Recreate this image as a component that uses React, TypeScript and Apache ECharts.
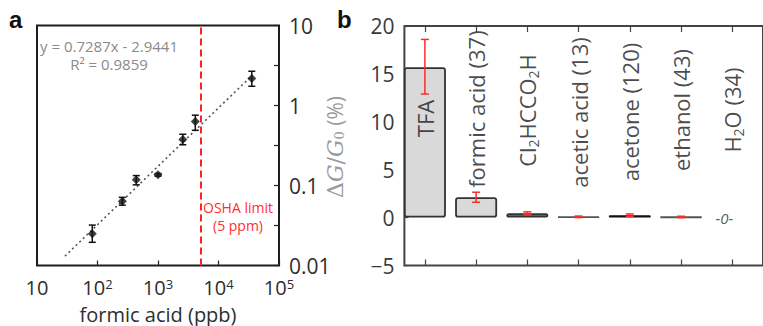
import React, { useEffect, useRef } from 'react';
import * as echarts from 'echarts';

// ---------- panel a : formic acid calibration ----------
const CONC_PPB = [82, 257, 437, 1000, 2570, 4140, 35500];
const RESPONSE = [0.025, 0.0637, 0.118, 0.136, 0.376, 0.63, 2.18];
const RESPONSE_LOW = [0.0195, 0.0568, 0.102, 0.131, 0.323, 0.49, 1.74];
const RESPONSE_HIGH = [0.032, 0.0711, 0.133, 0.141, 0.437, 0.757, 2.68];
const FIT_CONC = [29, 36000];
const FIT_RESPONSE = [0.0131, 2.38];
const OSHA_LIMIT_PPB = 5000;
const FIT_TEXT = ['y = 0.7287x - 2.9441', 'R\u00b2 = 0.9859'];
const OSHA_TEXT = ['OSHA limit', '(5 ppm)'];

// ---------- panel b : selectivity ----------
const GAS_LABELS = [
  '{n|TFA}',
  '{n|formic acid (37)}',
  '{n|Cl}{sub|2}{n|HCCO}{sub|2}{n|H}',
  '{n|acetic acid (13)}',
  '{n|acetone (120)}',
  '{n|ethanol (43)}',
  '{n|H}{sub|2}{n|O (34)}',
];
const DELTA_G = [15.7, 2.13, 0.45, 0.08, 0.25, 0.07, null];
const DELTA_G_LOW = [12.9, 1.6, 0.3, 0.0, 0.12, 0.0, null];
const DELTA_G_HIGH = [18.6, 2.65, 0.6, 0.16, 0.38, 0.14, null];
const LABEL_AT = [10.34, 11.33, 11.18, 10.97, 11.02, 11.23, 11.23];
const ZERO_TEXT = '-0-';

const BAR_FILL = ['#d9d9d9', '#d9d9d9', '#707070', '#6a6a6a', '#111111', '#6a6a6a', '#d9d9d9'];
const BAR_EDGE = ['#333333', '#333333', '#333333', '#555555', '#111111', '#555555', '#333333'];

const FONT = "'Open Sans', sans-serif";

function errorBar(color: string, cap: number, width: number) {
  return (params: any, api: any) => {
    const x = api.value(0);
    const lo = api.coord([x, api.value(1)]);
    const hi = api.coord([x, api.value(2)]);
    const st = { stroke: color, lineWidth: width };
    return {
      type: 'group',
      children: [
        { type: 'line', shape: { x1: lo[0], y1: lo[1], x2: hi[0], y2: hi[1] }, style: st },
        { type: 'line', shape: { x1: lo[0] - cap, y1: lo[1], x2: lo[0] + cap, y2: lo[1] }, style: st },
        { type: 'line', shape: { x1: hi[0] - cap, y1: hi[1], x2: hi[0] + cap, y2: hi[1] }, style: st },
      ],
    };
  };
}

export default function App() {
  const ref = useRef<HTMLDivElement>(null);
  useEffect(() => {
    document.body.style.margin = '0';
    const chart = echarts.init(ref.current!, null, { renderer: 'svg' });
    const tickColor = '#2e2e2e';
    const cats = GAS_LABELS.map((_, i) => i + 1);
    const option: any = {
      animation: false,
      backgroundColor: '#ffffff',
      grid: [
        { left: 37, top: 25.5, width: 242, height: 240, show: true, borderColor: '#1e1e1e', borderWidth: 2 },
        { left: 404.4, top: 26, width: 369.6, height: 239.5, show: true, borderColor: '#444444', borderWidth: 2 },
      ],
      xAxis: [
        {
          gridIndex: 0, type: 'log', logBase: 10, min: 10, max: 100000, position: 'bottom',
          axisLine: { show: false, onZero: false },
          axisTick: { show: true, inside: true, length: 5, lineStyle: { color: '#222', width: 1.2 } },
          splitLine: { show: false },
          axisLabel: {
            margin: 12,
            formatter: (v: number) => {
              const e = Math.round(Math.log10(v));
              return e === 1 ? '{n|10}' : `{n|10}{s|${e}}`;
            },
            rich: {
              n: { fontSize: 20, fontFamily: FONT, color: tickColor, lineHeight: 19 },
              s: { fontSize: 13, fontFamily: FONT, color: tickColor, verticalAlign: 'top', lineHeight: 12 },
            },
          },
        },
        {
          gridIndex: 1, type: 'value', min: 0.6, max: 7.6, position: 'bottom',
          axisLine: { show: false, onZero: false },
          axisTick: { show: true, inside: true, length: 6, customValues: cats, lineStyle: { color: '#444', width: 1.2 } },
          axisLabel: { show: false },
          splitLine: { show: false },
        },
        {
          gridIndex: 1, type: 'value', min: 0.6, max: 7.6, position: 'top',
          axisLine: { show: false, onZero: false },
          axisTick: { show: true, inside: true, length: 6, customValues: cats, lineStyle: { color: '#444', width: 1.2 } },
          axisLabel: { show: false },
          splitLine: { show: false },
        },
      ],
      yAxis: [
        {
          gridIndex: 0, type: 'log', logBase: 10, min: 0.01, max: 10, position: 'right',
          axisLine: { show: false, onZero: false }, axisTick: { show: false }, splitLine: { show: false },
          axisLabel: {
            margin: 10, fontSize: 21, lineHeight: 20, fontFamily: FONT, color: tickColor,
            formatter: (v: number) => String(Number(v.toPrecision(3))),
          },
        },
        {
          gridIndex: 0, type: 'value', min: -2, max: 1, interval: 0.5, position: 'right',
          axisLine: { show: false, onZero: false },
          axisTick: { show: true, inside: true, length: 5, lineStyle: { color: '#222', width: 1.2 } },
          axisLabel: { show: false }, splitLine: { show: false },
        },
        {
          gridIndex: 1, type: 'value', min: -5, max: 20, interval: 5, position: 'left',
          axisLine: { show: false, onZero: false },
          axisTick: { show: true, inside: true, length: 4, lineStyle: { color: '#444', width: 1.2 } },
          splitLine: { show: false },
          axisLabel: {
            margin: 10, fontSize: 21, fontFamily: FONT, color: '#3a3a3a',
            formatter: (v: number) => (v < 0 ? '\u2212' + Math.abs(v) : String(v)),
          },
        },
      ],
      series: [
        {
          type: 'line', xAxisIndex: 0, yAxisIndex: 0, symbol: 'none', silent: true,
          data: FIT_CONC.map((c, i) => [c, FIT_RESPONSE[i]]),
          lineStyle: { color: '#555', width: 1.6, type: [2, 3] },
          markLine: {
            silent: true, symbol: ['none', 'none'], label: { show: false },
            lineStyle: { color: '#ff2020', width: 2, type: [7, 4] },
            data: [{ xAxis: OSHA_LIMIT_PPB }],
          },
          z: 2,
        },
        {
          type: 'custom', xAxisIndex: 0, yAxisIndex: 0, silent: true,
          renderItem: errorBar('#111', 3.5, 1.5),
          encode: { x: 0, y: [1, 2] },
          data: CONC_PPB.map((c, i) => [c, RESPONSE_LOW[i], RESPONSE_HIGH[i]]),
          z: 3,
        },
        {
          type: 'scatter', xAxisIndex: 0, yAxisIndex: 0, symbol: 'diamond', symbolSize: 9, silent: true,
          itemStyle: { color: '#111' },
          data: CONC_PPB.map((c, i) => [c, RESPONSE[i]]),
          z: 4,
        },
        {
          type: 'bar', xAxisIndex: 1, yAxisIndex: 2, barWidth: 42, silent: true,
          data: DELTA_G.map((v, i) =>
            v == null
              ? null
              : {
                  value: [i + 1, v],
                  itemStyle: { color: BAR_FILL[i], borderColor: BAR_EDGE[i], borderWidth: 1.8, borderRadius: 2 },
                }
          ).filter((d) => d !== null),
          z: 2,
        },
        {
          type: 'custom', xAxisIndex: 1, yAxisIndex: 2, silent: true,
          renderItem: errorBar('#ff2a2a', 4, 1.5),
          encode: { x: 0, y: [1, 2] },
          data: DELTA_G_LOW.map((lo, i) => (lo == null ? null : [i + 1, lo, DELTA_G_HIGH[i]])).filter((d) => d !== null),
          z: 3,
        },
        {
          type: 'scatter', xAxisIndex: 1, yAxisIndex: 2, symbolSize: 0, silent: true,
          data: GAS_LABELS.map((t, i) => ({ value: [i + 1, LABEL_AT[i]], label: { formatter: t } })),
          label: {
            show: true, position: 'inside', rotate: 90,
            rich: {
              n: { fontSize: 22, fontFamily: FONT, color: '#1a1a1a', lineHeight: 26 },
              sub: { fontSize: 14, fontFamily: FONT, color: '#1a1a1a', verticalAlign: 'bottom', lineHeight: 14 },
            },
          },
          z: 5,
        },
        {
          type: 'scatter', xAxisIndex: 1, yAxisIndex: 2, symbolSize: 0, silent: true,
          data: [{ value: [7, 0] }],
          label: {
            show: true, position: 'inside', formatter: ZERO_TEXT, offset: [-8, 0],
            fontSize: 15, fontStyle: 'italic', fontFamily: FONT, color: '#333',
          },
          z: 5,
        },
      ],
      graphic: [
        {
          type: 'text', left: 9, top: 7,
          style: { text: 'a', fontSize: 24, fontWeight: 'bold', fontFamily: "'Liberation Sans', Arial, sans-serif", fill: '#111' },
        },
        {
          type: 'text', left: 337, top: 7,
          style: { text: 'b', fontSize: 24, fontWeight: 'bold', fontFamily: "'Liberation Sans', Arial, sans-serif", fill: '#111' },
        },
        {
          type: 'text', x: 109, y: 55,
          style: {
            text: FIT_TEXT.join('\n'), fontSize: 15, lineHeight: 18, fontFamily: FONT, fill: '#8a8a8a',
            align: 'center', verticalAlign: 'middle',
          },
        },
        {
          type: 'text', x: 238, y: 216,
          style: {
            text: OSHA_TEXT.join('\n'), fontSize: 14, lineHeight: 18, fontFamily: FONT, fill: '#ff3030',
            align: 'center', verticalAlign: 'middle',
          },
        },
        {
          type: 'text', x: 158, y: 314.5,
          style: {
            text: 'formic acid (ppb)', fontSize: 20, lineHeight: 18, fontFamily: FONT, fill: '#2e2e2e',
            align: 'center', verticalAlign: 'middle',
          },
        },
        {
          type: 'text', x: 335, y: 147, rotation: Math.PI / 2,
          style: {
            text: '{m|\u0394}{i|G}{m|/}{i|G}{sub|0}{n| (%)}',
            align: 'center', verticalAlign: 'middle',
            rich: {
              m: { fontSize: 22, fontFamily: "'DejaVu Serif', serif", fill: '#9a9a9a' },
              i: { fontSize: 22, fontStyle: 'italic', fontFamily: "'DejaVu Serif', serif", fill: '#9a9a9a' },
              sub: { fontSize: 13, fontFamily: "'DejaVu Serif', serif", fill: '#9a9a9a', verticalAlign: 'bottom' },
              n: { fontSize: 21, fontFamily: FONT, fill: '#9a9a9a' },
            },
          },
        },
      ],
    };
    chart.setOption(option);
    return () => chart.dispose();
  }, []);
  return <div ref={ref} style={{ width: 763, height: 326 }} />;
}
